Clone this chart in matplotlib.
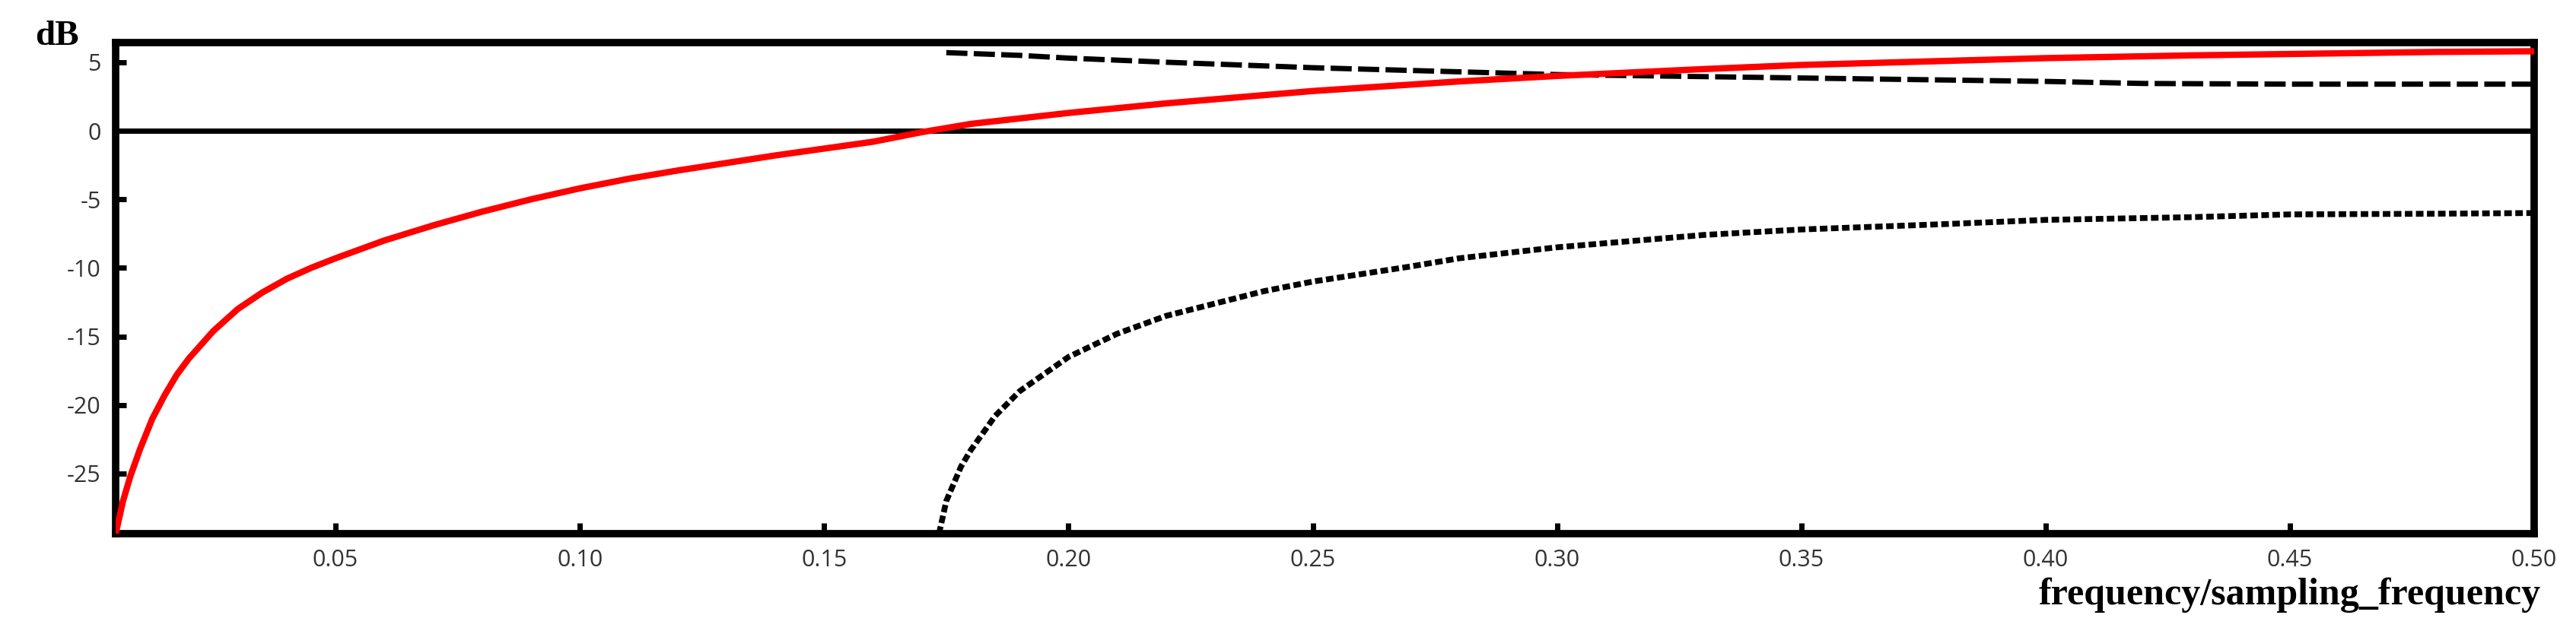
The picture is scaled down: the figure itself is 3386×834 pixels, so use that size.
import numpy as np
import matplotlib
matplotlib.use("Agg")
import matplotlib.pyplot as plt

# red curve
red_x = [0.005, 0.0065, 0.008, 0.01, 0.0125, 0.015, 0.0175, 0.02, 0.025, 0.03, 0.035, 0.04,
         0.045, 0.05, 0.06, 0.07, 0.08, 0.09, 0.10, 0.11, 0.12, 0.14, 0.16, 0.17, 0.18,
         0.20, 0.22, 0.25, 0.28, 0.30, 0.33, 0.35, 0.38, 0.40, 0.43, 0.45, 0.48, 0.50]
red_y = [-29.4, -27.0, -25.2, -23.2, -21.0, -19.3, -17.8, -16.6, -14.6, -13.0, -11.8, -10.8,
         -10.0, -9.3, -8.0, -6.9, -5.9, -5.0, -4.2, -3.5, -2.9, -1.8, -0.8, -0.1, 0.5,
         1.3, 2.0, 2.9, 3.6, 4.0, 4.5, 4.8, 5.1, 5.3, 5.5, 5.6, 5.75, 5.8]

# upper dashed curve
up_x = [0.175, 0.19, 0.20, 0.22, 0.25, 0.28, 0.30, 0.33, 0.35, 0.38, 0.40, 0.42, 0.45, 0.48, 0.50]
up_y = [5.7, 5.5, 5.3, 5.0, 4.6, 4.3, 4.1, 3.95, 3.85, 3.7, 3.6, 3.45, 3.4, 3.4, 3.4]

# lower dashed curve
lo_x = [0.1735, 0.175, 0.178, 0.18, 0.185, 0.19, 0.20, 0.21, 0.22, 0.24, 0.25, 0.27, 0.28,
        0.30, 0.33, 0.35, 0.38, 0.40, 0.43, 0.45, 0.48, 0.50]
lo_y = [-29.4, -27.0, -24.5, -23.3, -20.8, -19.0, -16.5, -14.8, -13.5, -11.7, -11.0, -9.9, -9.3,
        -8.5, -7.6, -7.2, -6.8, -6.5, -6.3, -6.1, -6.05, -6.0]

xticks = [0.05, 0.10, 0.15, 0.20, 0.25, 0.30, 0.35, 0.40, 0.45, 0.50]
yticks = [5, 0, -5, -10, -15, -20, -25]

fig = plt.figure(figsize=(33.87, 8.34), dpi=100)
ax = fig.add_axes([0.0449, 0.158, 0.9386, 0.775])
ax.set_xlim(0.005, 0.5)
ax.set_ylim(-29.4, 6.44)

ax.axhline(0, color="black", lw=5)
ax.plot(red_x, red_y, color="red", lw=6, zorder=3)
ax.plot(up_x, up_y, color="black", lw=5, dashes=(4, 1.2), zorder=2)
ax.plot(lo_x, lo_y, color="black", lw=5.5, dashes=(1.3, 0.6), zorder=2)

for s in ax.spines.values():
    s.set_linewidth(7)
ax.set_xticks(xticks)
ax.set_xticklabels(["%.2f" % t for t in xticks])
ax.set_yticks(yticks)
ax.set_yticklabels([str(t) for t in yticks])
ax.tick_params(direction="in", length=10, width=5, labelsize=22, labelcolor="#333333",
               pad=14)
for lab in ax.get_xticklabels() + ax.get_yticklabels():
    lab.set_family("Open Sans")

fig.text(0.022, 0.943, "dB", fontsize=34, fontweight="bold", family="Liberation Serif",
         ha="center", va="center")
fig.text(0.986, 0.062, "frequency/sampling_frequency", fontsize=36, fontweight="bold",
         family="Liberation Serif", ha="right", va="center")

fig.savefig("out.png", dpi=100)
